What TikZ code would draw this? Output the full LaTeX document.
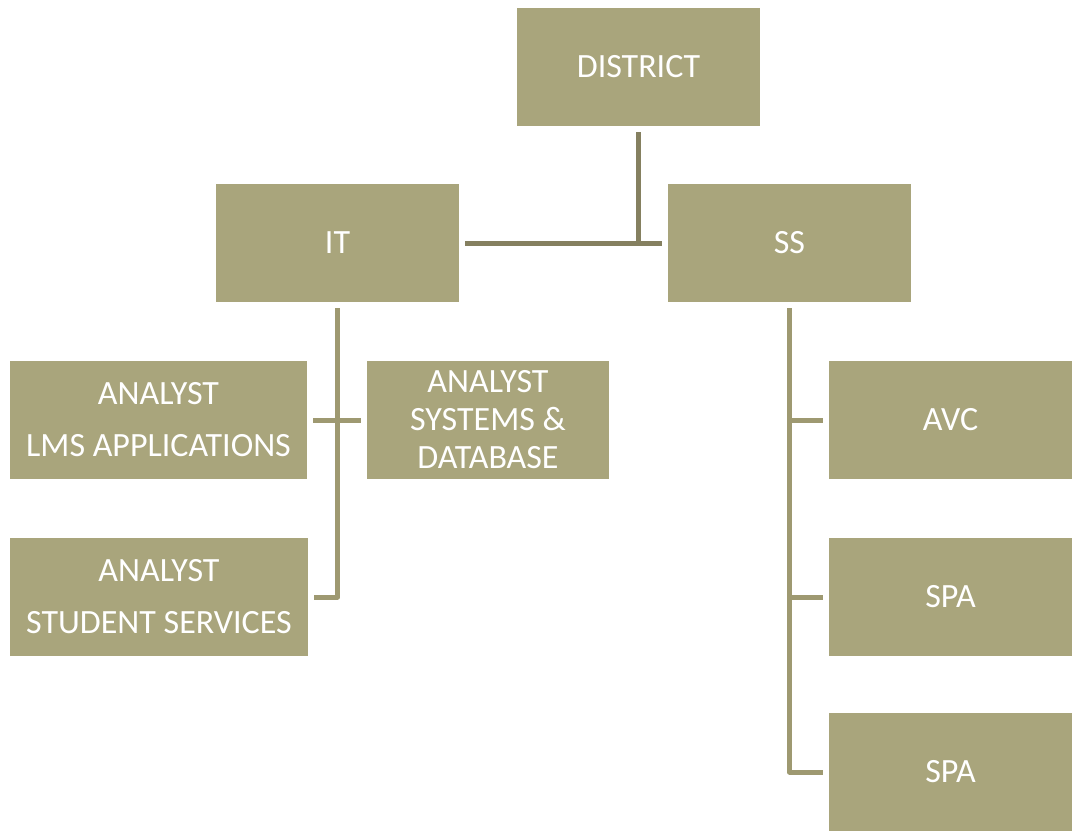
\documentclass[tikz,border=0pt]{standalone}
\usepackage{fontspec}
\setmainfont{Carlito}
\usetikzlibrary{calc}
\definecolor{boxfill}{HTML}{A9A57C}
\definecolor{linec}{HTML}{9E9971}
\definecolor{linedark}{HTML}{858060}
\begin{document}
\begin{tikzpicture}[x=1pt,y=-1pt,
 box/.style={fill=boxfill, draw=none, minimum height=118pt, inner sep=0pt, text=white, font=\fontsize{34}{38}\selectfont, align=center},
 conn/.style={draw=linec, line width=5pt, line join=round},
 connd/.style={draw=linedark, line width=5pt}]
\useasboundingbox (0,0) rectangle (1076,830);
\node[box, minimum width=243pt] (district) at (638.5,67) {DISTRICT};
\node[box, minimum width=243pt] (it) at (337.5,243) {IT};
\node[box, minimum width=243pt] (ss) at (789.5,243) {SS};
\node[box, minimum width=297pt] (lms) at (158.5,420) {ANALYST\\[14pt]LMS APPLICATIONS};
\node[box, minimum width=242pt] (sys) at (488,420) {ANALYST\\SYSTEMS \&\\DATABASE};
\node[box, minimum width=298pt] (stu) at (159,597) {ANALYST\\[14pt]STUDENT SERVICES};
\node[box, minimum width=243pt] (avc) at (950.5,420) {AVC};
\node[box, minimum width=243pt] (spa1) at (950.5,597) {SPA};
\node[box, minimum width=243pt] (spa2) at (950.5,772) {SPA};
% district connectors
\coordinate (dj) at (district.south |- it.east);
\draw[connd] ($(district.south)+(0,6)$) -- (dj);
\draw[connd] ($(it.east)+(6,0)$) -- ($(ss.west)+(-6,0)$);
% IT branch
\draw[conn] ($(it.south)+(0,6)$) -- (it.south |- stu.east) -- ($(stu.east)+(6,0)$);
\draw[conn] ($(lms.east)+(6,0)$) -- ($(sys.west)+(-6,0)$);
% SS branch
\draw[conn] ($(ss.south)+(0,6)$) -- (ss.south |- spa2.west) -- ($(spa2.west)+(-6,0)$);
\draw[conn] (ss.south |- avc.west) -- ($(avc.west)+(-6,0)$);
\draw[conn] (ss.south |- spa1.west) -- ($(spa1.west)+(-6,0)$);
\end{tikzpicture}
\end{document}
